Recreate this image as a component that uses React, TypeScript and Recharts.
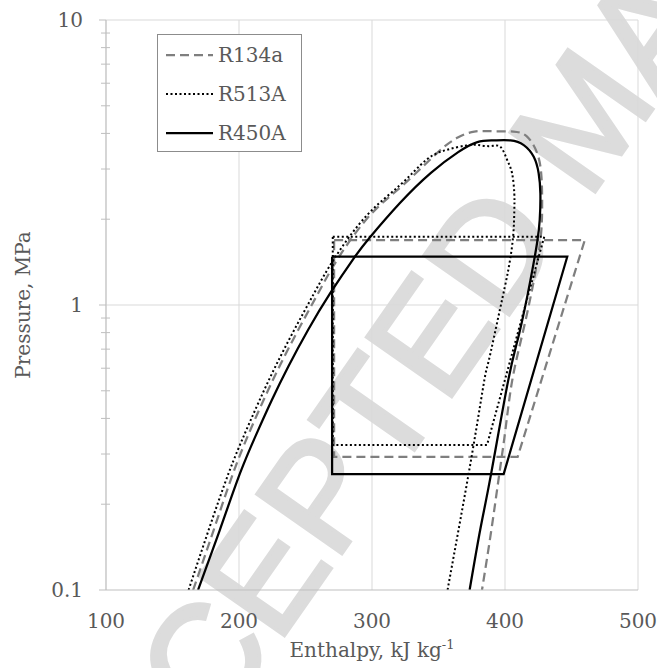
import React from 'react';
import { LineChart, Line, XAxis, YAxis, CartesianGrid, ReferenceLine, Legend } from 'recharts';

const W = 657;
const H = 668;

// Saturation domes: enthalpy (kJ/kg) and pressure (MPa), liquid side up to the top, then vapour side down
const r134aDomeH = [165.5, 180.9, 195.6, 207.6, 218.5, 230.2, 244.5, 259.5, 275.0, 298.7, 323.5, 349.1, 364.1, 376.9, 391.2, 406.3, 416.6, 424.1, 427.4, 427.9, 426.6, 421.7, 413.8, 405.5, 400.3, 395.8, 389.7, 382.7];
const r134aDomeP = [0.1, 0.162, 0.257, 0.356, 0.464, 0.606, 0.817, 1.10, 1.47, 2.07, 2.64, 3.42, 3.86, 4.06, 4.07, 4.06, 3.90, 3.42, 2.82, 2.15, 1.69, 1.22, 0.817, 0.546, 0.364, 0.257, 0.162, 0.1];

const r513aDomeH = [162.1, 177.1, 192.2, 204.6, 215.5, 227.2, 241.5, 256.5, 272.3, 296.4, 321.3, 340.8, 355.9, 370.9, 380.0, 389.0, 396.5, 401.6, 405.3, 407.0, 407.0, 406.1, 402.5, 396.1, 387.9, 384.5, 376.4, 366.4, 356.8];
const r513aDomeP = [0.1, 0.162, 0.257, 0.356, 0.464, 0.606, 0.817, 1.10, 1.47, 2.07, 2.64, 3.23, 3.50, 3.63, 3.64, 3.61, 3.59, 3.23, 2.90, 2.46, 2.15, 1.74, 1.33, 0.96, 0.641, 0.546, 0.323, 0.176, 0.1];

const r450aDomeH = [169.2, 185.5, 200.8, 213.5, 224.7, 236.9, 251.9, 268.6, 286.8, 298.5, 321.0, 344.3, 364.8, 379.2, 391.2, 404.0, 414.1, 421.6, 425.3, 426.6, 426.1, 424.1, 419.1, 410.8, 402.5, 389.5, 381.4, 373.4];
const r450aDomeP = [0.1, 0.162, 0.257, 0.356, 0.464, 0.606, 0.817, 1.10, 1.47, 1.73, 2.28, 2.91, 3.44, 3.73, 3.78, 3.78, 3.64, 3.31, 2.90, 2.46, 1.99, 1.65, 1.22, 0.798, 0.546, 0.255, 0.163, 0.1];

// Refrigeration cycles: condenser, compression (drawn back down), evaporator, expansion
const r134aCycleH = [271.5, 460.0, 409.5, 271.5, 271.5];
const r134aCycleP = [1.69, 1.69, 0.293, 0.293, 1.69];

const r513aCycleH = [270.5, 429.5, 386.5, 270.5, 270.5];
const r513aCycleP = [1.736, 1.736, 0.323, 0.323, 1.736];

const r450aCycleH = [270.0, 446.8, 399.0, 270.0, 270.0];
const r450aCycleP = [1.477, 1.477, 0.255, 0.255, 1.477];

const xTicks = [100, 200, 300, 400, 500];
const yTicks = [0.1, 0.2, 0.3, 0.4, 0.5, 0.6, 0.7, 0.8, 0.9, 1, 2, 3, 4, 5, 6, 7, 8, 9, 10];
const yMajor = [0.1, 1, 10];

const seriesNames = ['R134a', 'R513A', 'R450A'];

const toPoints = (hs: number[], ps: number[]) => hs.map((h, i) => ({ h, p: ps[i] }));

const r134aDome = toPoints(r134aDomeH, r134aDomeP);
const r513aDome = toPoints(r513aDomeH, r513aDomeP);
const r450aDome = toPoints(r450aDomeH, r450aDomeP);
const r134aCycle = toPoints(r134aCycleH, r134aCycleP);
const r513aCycle = toPoints(r513aCycleH, r513aCycleP);
const r450aCycle = toPoints(r450aCycleH, r450aCycleP);

const SERIF = 'DejaVu Serif';
const FS = 20;
const TEXT = '#595959';
const AXIS = '#bfbfbf';
const GRID = '#d9d9d9';

const dashedStyle = { stroke: '#7f7f7f', strokeWidth: 2.25, strokeDasharray: '9 5' };
const dottedStyle = { stroke: '#000000', strokeWidth: 2, strokeDasharray: '2 2.5' };
const solidStyle = { stroke: '#000000', strokeWidth: 2.25 };
const styles = [dashedStyle, dottedStyle, solidStyle];

const YTick = (props: any) => {
  const { x, y, payload } = props;
  const v = payload.value;
  const major = yMajor.some((m) => Math.abs(m - v) < 1e-9);
  return (
    <g>
      <line x1={major ? x - 7 : x - 5} x2={major ? x : x + 4} y1={y} y2={y} stroke={AXIS} strokeWidth={1} />
      {major && (
        <text x={x - 23} y={y + 7} textAnchor="end" fontFamily={SERIF} fontSize={FS} fill={TEXT}>
          {String(v)}
        </text>
      )}
    </g>
  );
};

const XTick = (props: any) => {
  const { x, y, payload } = props;
  return (
    <text x={x} y={y + 38} textAnchor="middle" fontFamily={SERIF} fontSize={FS} fill={TEXT}>
      {String(payload.value)}
    </text>
  );
};

const XTitle = () => (
  <text x={372} y={657} textAnchor="middle" fontFamily={SERIF} fontSize={FS} fill={TEXT}>
    Enthalpy, kJ kg
    <tspan dy={-8} fontSize={13}>-1</tspan>
  </text>
);

const YTitle = () => (
  <text transform="translate(30,305) rotate(-90)" x={0} y={0} textAnchor="middle" fontFamily={SERIF} fontSize={FS} fill={TEXT}>
    Pressure, MPa
  </text>
);

const LegendBox = () => (
  <div style={{ width: 145, height: 118, border: '1px solid #8c8c8c', background: '#ffffff', boxSizing: 'border-box' }}>
    <svg width={143} height={116} style={{ display: 'block' }}>
      {seriesNames.map((name, i) => {
        const cy = 20 + i * 39;
        return (
          <g key={name}>
            <line x1={8} x2={55} y1={cy} y2={cy} {...styles[i]} />
            <text x={60} y={cy + 7} fontFamily={SERIF} fontSize={FS} fill={TEXT}>
              {name}
            </text>
          </g>
        );
      })}
    </svg>
  </div>
);

const Watermark = () => (
  <svg width={W} height={H} style={{ position: 'absolute', left: 0, top: 0 }}>
    <text
      transform="translate(582,116) rotate(-55)"
      x={0}
      y={54}
      textAnchor="middle"
      fontFamily="Liberation Sans"
      fontSize={150}
      fill="#dcdcdc"
      stroke="#dcdcdc"
      strokeWidth={4}
    >
      ACCEPTED MANUSCRIPT
    </text>
  </svg>
);

export default function App() {
  return (
    <div style={{ position: 'absolute', left: 0, top: 0, width: W, height: H, background: '#ffffff', overflow: 'hidden' }}>
      <Watermark />
      <div style={{ position: 'absolute', left: 0, top: 0 }}>
        <LineChart width={W} height={H} margin={{ top: 20, right: 19, bottom: 0, left: 0 }}>
          <CartesianGrid horizontal={false} vertical={true} stroke={GRID} strokeWidth={1} />
          <ReferenceLine y={1} stroke={GRID} strokeWidth={1} />
          <ReferenceLine y={10} stroke={GRID} strokeWidth={1} />
          <XAxis
            type="number"
            dataKey="h"
            domain={[100, 500]}
            ticks={xTicks}
            allowDataOverflow
            height={78}
            stroke={AXIS}
            tickLine={false}
            tickSize={0}
            tickMargin={0}
            tick={<XTick />}
            label={<XTitle />}
          />
          <YAxis
            type="number"
            dataKey="p"
            scale="log"
            domain={[0.1, 10]}
            ticks={yTicks}
            allowDataOverflow
            width={106}
            stroke={AXIS}
            tickLine={false}
            tickSize={0}
            tickMargin={0}
            tick={<YTick />}
            interval={0}
            label={<YTitle />}
          />
          <Legend
            layout="vertical"
            align="center"
            verticalAlign="middle"
            wrapperStyle={{ left: 157, top: 34, width: 145, height: 118 }}
            content={<LegendBox />}
          />
          <Line data={r134aDome} dataKey="p" name="R134a" type="natural" dot={false} activeDot={false} isAnimationActive={false} legendType="none" {...dashedStyle} />
          <Line data={r134aCycle} dataKey="p" name="R134a cycle" type="linear" dot={false} activeDot={false} isAnimationActive={false} legendType="none" {...dashedStyle} />
          <Line data={r513aDome} dataKey="p" name="R513A" type="natural" dot={false} activeDot={false} isAnimationActive={false} legendType="none" {...dottedStyle} />
          <Line data={r513aCycle} dataKey="p" name="R513A cycle" type="linear" dot={false} activeDot={false} isAnimationActive={false} legendType="none" {...dottedStyle} />
          <Line data={r450aDome} dataKey="p" name="R450A" type="natural" dot={false} activeDot={false} isAnimationActive={false} legendType="none" {...solidStyle} />
          <Line data={r450aCycle} dataKey="p" name="R450A cycle" type="linear" dot={false} activeDot={false} isAnimationActive={false} legendType="none" {...solidStyle} />
        </LineChart>
      </div>
    </div>
  );
}
